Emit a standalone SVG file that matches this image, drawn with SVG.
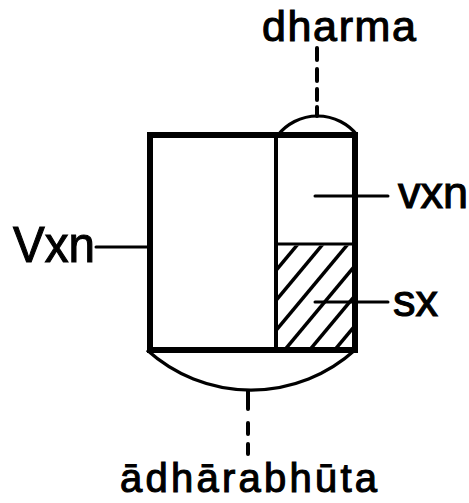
<svg xmlns="http://www.w3.org/2000/svg" width="469" height="503" viewBox="0 0 469 503">
<style>
  .lbl { font-family: "Liberation Sans", Arial, sans-serif; fill: #000; stroke: #000; stroke-width: 1.1; }
  .thick { fill: none; stroke: #000; stroke-width: 6; stroke-linejoin: miter; }
  .med { fill: none; stroke: #000; stroke-width: 4; }
  .thin { fill: none; stroke: #000; stroke-width: 3.2; }
  .dash { fill: none; stroke: #000; stroke-width: 4; stroke-linecap: round; }
  .lead { fill: none; stroke: #000; stroke-width: 3; stroke-linecap: round; }
</style>
<defs>
  <clipPath id="hatchClip">
    <rect x="277.5" y="245.5" width="75" height="102"/>
  </clipPath>
</defs>
<rect width="469" height="503" fill="#fff"/>
<g id="body">
  <rect class="thick" x="150" y="135" width="205" height="215"/>
  <line class="med" x1="276" y1="135" x2="276" y2="350"/>
</g>
<g id="dharma-cap">
  <path class="thin" d="M278,135 A50.6,50.6 0 0 1 357,135"/>
</g>
<g id="adharabhuta-base">
  <path class="thin" d="M147,350 A155,155 0 0 0 355,350"/>
</g>
<g id="sx-region">
  <line class="thin" x1="276" y1="244" x2="355" y2="244"/>
  <g clip-path="url(#hatchClip)" stroke="#000" stroke-width="3.5">
    <line x1="318" y1="220" x2="168" y2="400"/>
    <line x1="343" y1="220" x2="193" y2="400"/>
    <line x1="368" y1="220" x2="218" y2="400"/>
    <line x1="393" y1="220" x2="243" y2="400"/>
    <line x1="418" y1="220" x2="268" y2="400"/>
    <line x1="443" y1="220" x2="293" y2="400"/>
    <line x1="468" y1="220" x2="318" y2="400"/>
  </g>
</g>
<g id="connectors">
  <line class="lead" x1="96" y1="247" x2="150" y2="247"/>
  <line class="lead" x1="315" y1="196" x2="388" y2="196"/>
  <line class="lead" x1="315" y1="302" x2="388" y2="302"/>
  <line class="dash" x1="317" y1="48" x2="317" y2="60"/>
  <line class="dash" x1="317" y1="69" x2="317" y2="81"/>
  <line class="dash" x1="317" y1="89" x2="317" y2="100"/>
  <line class="dash" x1="317" y1="107" x2="317" y2="116"/>
  <line class="dash" x1="248" y1="391" x2="248" y2="409"/>
  <line class="dash" x1="248" y1="423" x2="248" y2="434"/>
  <line class="dash" x1="248" y1="444" x2="248" y2="454"/>
</g>
<g id="labels">
  <text class="lbl" x="262" y="41" font-size="43" textLength="154" lengthAdjust="spacing">dharma</text>
  <text class="lbl" x="398" y="208" font-size="45">vxn</text>
  <text class="lbl" x="393" y="316" font-size="45">sx</text>
  <text class="lbl" x="13" y="262" font-size="50" textLength="82" lengthAdjust="spacingAndGlyphs">Vxn</text>
  <text class="lbl" x="120" y="492" font-size="40" textLength="257" lengthAdjust="spacing">ādhārabhūta</text>
</g>
</svg>
